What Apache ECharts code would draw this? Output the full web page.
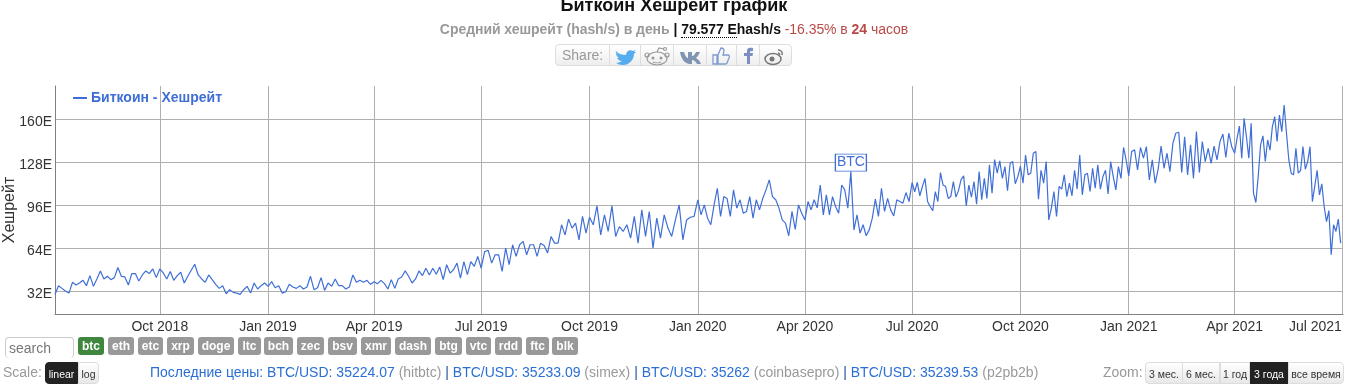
<!DOCTYPE html>
<html lang="ru"><head><meta charset="utf-8">
<script src="https://cdn.jsdelivr.net/npm/echarts@6/dist/echarts.min.js"></script>
<style>
html,body{margin:0;padding:0;background:#fff;overflow:hidden}
body{width:1348px;height:392px;position:relative;font-family:"Liberation Sans",Arial,sans-serif}
#chart{position:absolute;left:0;top:0;width:1348px;height:392px}
.abs{position:absolute;white-space:nowrap;box-sizing:border-box}
#sub{left:0;width:1348px;top:21px;text-align:center;font-size:14px;font-weight:bold;color:#999;line-height:16px;letter-spacing:-.05px}
#sub .v{color:#111}#sub u{text-decoration:none;border-bottom:1px dotted #000}
#sub .r{color:#b94a48;font-weight:normal}#sub .r b{font-weight:bold}
#share{left:555px;top:44px;width:237px;height:22px;border:1px solid #ddd;border-radius:4px;background:linear-gradient(#fff,#eee)}
#share .c{position:absolute;top:0;height:20px;border-left:1px solid #ddd}
#share .t{position:absolute;left:6px;top:2px;font-size:14px;color:#999}
#share svg{position:absolute;top:1px;left:0}
.tag{top:337px;height:18px;background:#999;color:#fff;font-weight:bold;font-size:12px;line-height:18px;text-align:center;border-radius:3px}
#search{left:5px;top:337px;width:69px;height:21px;border:1px solid #ccc;border-radius:4px;font-size:14px;line-height:20px;color:#777;padding-left:3px;border-bottom:none}
.lab{top:364px;font-size:14px;color:#999;line-height:17px}
.btn{top:362px;height:22px;font-size:10.5px;line-height:22px;text-align:center;color:#333;background:linear-gradient(#fff,#e8e8e8);border:1px solid #ddd}
.btn.on{background:#222;color:#fff;border-color:#222}
#prices{left:150px;top:364px;font-size:14px;line-height:17px;color:#2a6fd6}
#prices i{font-style:normal;color:#999}#prices s{text-decoration:none;color:#1c4f9c}
</style></head><body>
<div id="chart"></div>
<div class="abs" id="sub">Средний хешрейт (hash/s) в день <span class="v">| <u>79.577 E</u>hash/s</span> <span class="r">-16.35% в <b>24</b> часов</span></div>
<div class="abs" id="share"><span class="t">Share:</span>
<span class="c" style="left:53px"></span><span class="c" style="left:84px"></span><span class="c" style="left:117px"></span><span class="c" style="left:150px"></span><span class="c" style="left:180px"></span><span class="c" style="left:203px"></span>
<svg width="236" height="20" viewBox="0 0 236 20">
<path d="M60 5c3 3 6 4 10 4 0-4 4-6 7-4l3-1-2 2 2 0-2 2c0 6-5 11-11 11-3 0-5-1-7-2 2 0 4-1 6-2-3 0-4-2-5-3h2c-2-1-3-3-3-5l2 1c-2-1-3-3-2-3z" fill="#55acee"/>
<g fill="none" stroke="#999" stroke-width="1.2"><ellipse cx="101" cy="12.5" rx="10" ry="6.5"/><path d="M101 6l2-4 5 1"/><circle cx="109" cy="3" r="1.5"/><circle cx="91" cy="9" r="2"/><circle cx="111" cy="9" r="2"/><path d="M97 16c2 1 6 1 8 0"/></g><circle cx="97" cy="12" r="1.5" fill="#999"/><circle cx="105" cy="12" r="1.5" fill="#999"/>
<path d="M124 6h4c1 4 3 6 4 6V6h4v4c2 0 3-2 4-4h4c-1 3-3 5-4 6 2 1 4 3 5 6h-4c-1-2-3-4-5-4v4h-2c-5 0-9-5-10-12z" fill="#7f95b3"/>
<path d="M157 9h4v9h-4zM162 9l3-7c2 0 3 1 3 3l-1 4h5c1 0 2 1 1 3l-2 5c0 1-1 1-2 1h-7z" fill="none" stroke="#7f9ad0" stroke-width="1.3"/>
<path d="M191 18V10h-3V7h3V5c0-3 2-4 6-3v3c-2 0-3 0-3 1v1h3l-.5 3H194v8z" fill="#7b8fc0"/>
<g fill="none" stroke="#777" stroke-width="1.5"><ellipse cx="217" cy="13" rx="8" ry="5.5"/><path d="M222 4c3 0 5 2 4 5M222 7c1 0 2 1 1.500 2"/></g><circle cx="216" cy="13" r="2.500" fill="#777"/>
</svg></div>
<div class="abs" id="search">search</div>
<div id="tags"></div>
<div class="abs lab" style="left:3px">Scale:</div>
<div class="abs btn on" style="left:45px;width:33px;border-radius:4px 0 0 4px">linear</div>
<div class="abs btn" style="left:78px;width:21px;border-radius:0 4px 4px 0">log</div>
<div class="abs" id="prices">Последние цены: BTC/USD: 35224.07 <i>(hitbtc)</i> <s>|</s> BTC/USD: 35233.09 <i>(simex)</i> <s>|</s> BTC/USD: 35262 <i>(coinbasepro)</i> <s>|</s> BTC/USD: 35239.53 <i>(p2pb2b)</i></div>
<div class="abs lab" style="left:1103px">Zoom:</div>
<div class="abs btn" style="left:1145px;width:38px;border-radius:4px 0 0 4px">3 мес.</div>
<div class="abs btn" style="left:1182px;width:38px">6 мес.</div>
<div class="abs btn" style="left:1220px;width:30px">1 год</div>
<div class="abs btn on" style="left:1250px;width:38px">3 года</div>
<div class="abs btn" style="left:1288px;width:56px;border-radius:0 4px 4px 0">все время</div>
<script>
const tagNames=['btc','eth','etc','xrp','doge','ltc','bch','zec','bsv','xmr','dash','btg','vtc','rdd','ftc','blk'];
const tickDates=['2018-10-01','2019-01-01','2019-04-01','2019-07-01','2019-10-01','2020-01-01','2020-04-01','2020-07-01','2020-10-01','2021-01-01','2021-04-01','2021-07-01'];
const tickLabels=['Oct 2018','Jan 2019','Apr 2019','Jul 2019','Oct 2019','Jan 2020','Apr 2020','Jul 2020','Oct 2020','Jan 2021','Apr 2021','Jul 2021'];
const hashTicks=[32,64,96,128,160];
const seriesName='Биткоин - Хешрейт';
const startDate='2018-07-04', endDate='2021-07-02';
const q3_2018=[29.5,36,34,32,30.5,38.5,36.5,38,40,36,43.5,35.5,41,47,41,43,40.5,42,49.5,43,42.5,36.5,45,45,39.5,44,47,45,48.5,42];
const q4_2018=[48.5,45.5,41,46.5,40,43.5,46,38,43,47.5,52,44,41,38.5,44,40.5,37,34,36,30,33,31,30.5,29.5,33,35.5,30.5,38,33.5,36,38];
const q1_2019=[35.5,39,34.5,36,30.5,31.5,37,35,34,36,33.5,35,43,33,34.5,42,32.5,38,35.5,41,36,36,33.5,35,44,38.5,40,38.5,40,37];
const q2_2019=[39,37.5,40,37.5,33.5,40.5,34,41,42.5,47,43,38,41,47,43.5,49,44,49,44.5,50,40.5,51.6,45.4,47.9,52.8,41.7,54,44.2,54,50.4,57.8];
const q3_2019=[49,61.5,62.3,52.8,59,59,46.6,64,51.6,66.5,57.8,66.5,69,59,66.5,66.5,57.8,67.7,66,60.3,72.7,67.7,67.7,81.4,73.9,85.6,78.9,82.6,70.2,87.6,75.2];
const q4_2019=[87,81.4,95.5,73.9,88.8,76.4,95.5,72.7,80,76.4,81.4,71.4,87.6,67.7,92.5,72.7,91.3,64,86.3,71.4,88.8,78.9,72.7,85,96.2,70.2,85,87,87.6];
const q1_2020=[100,88.8,96.2,86.3,81.4,96,108.6,87.6,102.4,101,87.6,107.4,93.8,100,90,91.3,102.4,86.3,100,92.5,101,107.4,114.8,102.4,100,93.8,85,82.6,73.2,91.3,78,96.2,90];
const q2_2020=[85,98.7,92.5,100,94,111,88.8,103.7,88.8,102.4,95,90,111,107.4,93.8,121,77.6,88.8,75.2,81.4,73.2,77.6,86.3,100.5,87.6,108.6,91.3,101,92.5,88,100,98.7,97.5,105.4,98.7];
const q3_2020=[112.9,106,113,103,110,116,98.7,95,91.8,106,98.7,120.3,111,109.9,101,102.4,113.6,102,107,115,117.8,95.5,111,102,113.6,96.7,121,100,116,101,126,105,130,119.8,129,116,124.8,106.7,127,128.5,112,117.3];
const q4_2020=[125,112.4,133.4,118.6,119.8,134.7,136,100.5,122,112.4,128.5,85,93.8,106.2,87.6,110,108,118.6,102.4,112.4,103,122,108,133.4,103.7,118.6,119.8,106.2,123.5,108.6,126,108,117.3,122,104.4,128.5,117.3,107.4,124.8,116,139,129.7];
const q1_2021=[117.8,136,137.2,122.3,139,131,139.6,114.8,129.7,112.4,122.8,140,123.5,134.7,121,142,149.6,150.3,120.3,147,118.6,140.9,116,150.8,120.3,143.4,128.5,138.4,127.2,140,129.7,143.4,149,131.5,149.6,139.6];
const q2_2021=[134.7,145.8,155,131,160.7,147,131,157,105,98,117.8,140.9,147.6,128.5,144.6,137,154.5,162,143.4,163.2,150.8,170.6,149.6,129.7,119.8,118.6,138.4,119.8,122,139.6,122.8,128.5,139.6,98.7,110,122,103.7,111.9,95,83.8,92,59,81.4,76.4,85.6,67.7];

document.getElementById('tags').innerHTML=(()=>{
  const xs=[[78,26],[108,26],[138,25],[167,27],[198,36],[238,23],[264,29],[297,27],[328,29],[361,30],[395,36],[435,27],[466,25],[495,27],[526,23],[552,26]];
  return tagNames.map((t,i)=>`<div class="abs tag" style="left:${xs[i][0]}px;width:${xs[i][1]}px${i?'':';background:#3f873f'}">${t}</div>`).join('');
})();

const utc=s=>Date.parse(s+'T00:00:00Z');
const segments=[q3_2018,q4_2018,q1_2019,q2_2019,q3_2019,q4_2019,q1_2020,q2_2020,q3_2020,q4_2020,q1_2021,q2_2021];
const bounds=[utc(startDate),...tickDates.map(utc)];
bounds[12]=utc(endDate);
const points=[];
segments.forEach((seg,k)=>{seg.forEach((v,i)=>points.push([bounds[k]+(bounds[k+1]-bounds[k])*i/seg.length,v]));});
const lastI=q2_2020.indexOf(Math.max(...q2_2020));
const flagPoint=[bounds[7]+(bounds[8]-bounds[7])*lastI/q2_2020.length,q2_2020[lastI]];
const tickVals=tickDates.map(utc);
const labelOf=Object.fromEntries(tickVals.map((t,i)=>[t,tickLabels[i]]));
const font='"Liberation Sans",Arial,sans-serif', blue='#3f6fd6', grid='#b0b0b0';
const chart=echarts.init(document.getElementById('chart'),null,{renderer:'canvas'});
chart.setOption({
  animation:false,backgroundColor:'#fff',
  title:{text:'Биткоин Хешрейт график',left:'center',top:-8,textStyle:{fontFamily:font,fontSize:18,fontWeight:'bold',color:'#111'}},
  legend:{left:73,top:91,itemWidth:14,itemHeight:2,icon:'rect',itemGap:0,padding:0,
    textStyle:{fontFamily:font,fontSize:14,fontWeight:'bold',color:blue,padding:[0,0,0,-1]},data:[seriesName]},
  grid:{left:55,right:5,top:86,bottom:78,outerBoundsMode:'none',containLabel:false},
  xAxis:{type:'value',min:utc(startDate),max:utc(endDate),
    axisLine:{lineStyle:{color:'#808080',width:1}},axisTick:{show:false,customValues:tickVals},
    splitLine:{show:true,lineStyle:{color:grid,width:1}},
    axisLabel:{customValues:tickVals,hideOverlap:false,alignMaxLabel:'right',margin:6,color:'#333',fontFamily:font,fontSize:14,
      formatter:v=>labelOf[v]||''}},
  yAxis:{type:'value',min:14.9,max:184.8,name:'Хешрейт',nameLocation:'middle',nameGap:37,nameMoveOverlap:false,
    nameTextStyle:{fontFamily:font,fontSize:16,color:'#333',padding:[0,0,0,-20]},
    axisLine:{show:true,lineStyle:{color:'#808080',width:1}},axisTick:{show:false,customValues:hashTicks},
    splitLine:{show:true,lineStyle:{color:grid,width:1}},
    axisLabel:{customValues:hashTicks,margin:3,verticalAlign:'top',lineHeight:6,color:'#333',fontFamily:font,fontSize:14,formatter:v=>v+'E'}},
  series:[{name:seriesName,type:'line',data:points,showSymbol:false,symbol:'none',
    lineStyle:{color:blue,width:1.2},itemStyle:{color:blue},
    markPoint:{silent:true,symbol:'rect',symbolSize:[31,17],symbolOffset:[0,-9],
      itemStyle:{color:'#fff',borderColor:blue,borderWidth:1},
      label:{show:true,position:'inside',formatter:'BTC',color:blue,fontFamily:font,fontSize:14},
      data:[{coord:flagPoint,value:'BTC'}]}}]
});
</script></body></html>
